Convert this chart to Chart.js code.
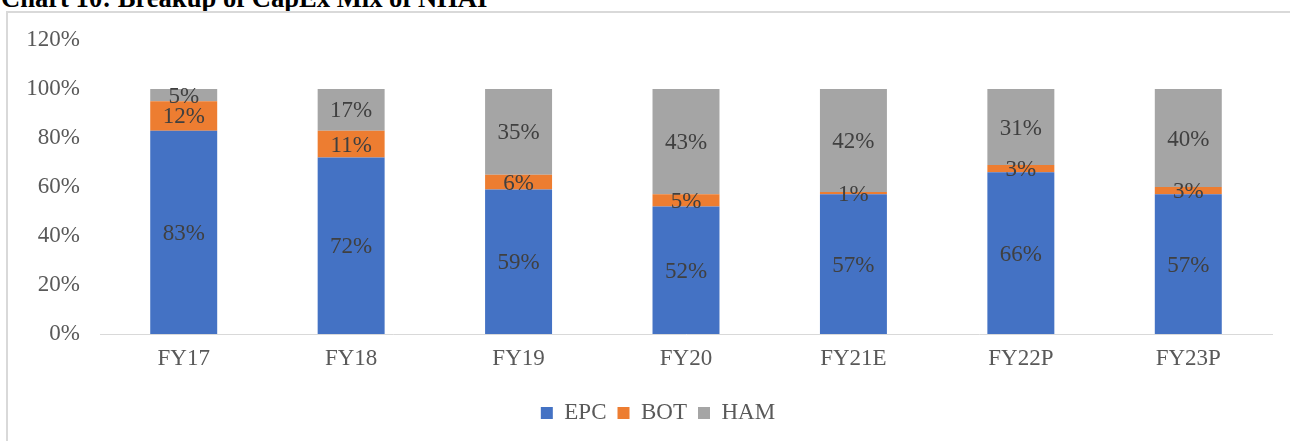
<!DOCTYPE html>
<html>
<head>
<meta charset="utf-8">
<script src="https://cdn.jsdelivr.net/npm/chart.js@4.4.1/dist/chart.umd.min.js"></script>
<style>
  html, body { margin: 0; padding: 0; background: #fff; overflow: hidden; }
  body { width: 1290px; height: 441px; position: relative; }
  #title { position: absolute; left: 1px; top: -15px; font: bold 26.6px "Liberation Serif", "Times New Roman", serif; line-height: 26px; color: #000; white-space: nowrap; }
  #frame { position: absolute; left: 6px; top: 11px; width: 1300px; height: 450px; border: 2px solid #d9d9d9; box-sizing: border-box; }
  #wrap { position: absolute; left: 0; top: 0; width: 1290px; height: 441px; }
</style>
</head>
<body>
<div id="title">Chart 10: Breakup of CapEx Mix of NHAI</div>
<div id="frame"></div>
<div id="wrap"><canvas id="c" width="1290" height="441"></canvas></div>
<script>
const categories = ["FY17", "FY18", "FY19", "FY20", "FY21E", "FY22P", "FY23P"];
const epc = [83, 72, 59, 52, 57, 66, 57];
const bot = [12, 11, 6, 5, 1, 3, 3];
const ham = [5, 17, 35, 43, 42, 31, 40];
const yTicks = [0, 20, 40, 60, 80, 100, 120];

const serif = '"Liberation Serif", "Times New Roman", serif';

const barLabels = {
  id: 'barLabels',
  afterDatasetsDraw(chart) {
    const ctx = chart.ctx;
    ctx.save();
    ctx.font = '23px ' + serif;
    ctx.fillStyle = '#404040';
    ctx.textAlign = 'center';
    ctx.textBaseline = 'middle';
    chart.data.datasets.forEach((ds, di) => {
      const meta = chart.getDatasetMeta(di);
      meta.data.forEach((bar, i) => {
        const v = ds.data[i];
        const p = bar.getProps(['x', 'y', 'base'], true);
        ctx.fillText(v + '%', p.x, (p.y + p.base) / 2 + 1.5);
      });
    });
    ctx.restore();
  }
};

const legendShift = {
  id: 'legendShift',
  afterLayout(chart) {
    const d = 22;
    chart.legend.left += d;
    chart.legend.right += d;
  }
};

new Chart(document.getElementById('c'), {
  type: 'bar',
  data: {
    labels: categories,
    datasets: [
      { label: 'EPC', data: epc, backgroundColor: '#4472C4', categoryPercentage: 1, barPercentage: 0.4 },
      { label: 'BOT', data: bot, backgroundColor: '#ED7D31', categoryPercentage: 1, barPercentage: 0.4 },
      { label: 'HAM', data: ham, backgroundColor: '#A5A5A5', categoryPercentage: 1, barPercentage: 0.4 }
    ]
  },
  options: {
    responsive: false,
    animation: false,
    layout: { padding: { left: 0, right: 18, top: 40, bottom: 6.5 } },
    plugins: {
      legend: {
        position: 'bottom',
        labels: {
          font: { family: serif, size: 23 },
          color: '#595959',
          boxWidth: 12,
          boxHeight: 12,
          padding: 11
        }
      },
      tooltip: { enabled: false }
    },
    scales: {
      x: {
        stacked: true,
        grid: { display: false, drawTicks: false },
        border: { display: true, color: '#d9d9d9', width: 1 },
        ticks: { font: { family: serif, size: 23 }, color: '#595959', padding: 11 },
        afterFit(scale) { scale.height = 56.5; }
      },
      y: {
        stacked: true,
        min: 0,
        max: 120,
        grid: { display: false, drawTicks: false },
        border: { display: false },
        afterBuildTicks(scale) { scale.ticks = yTicks.map(v => ({ value: v })); },
        ticks: {
          font: { family: serif, size: 23 },
          color: '#595959',
          padding: 20,
          callback: v => v + '%'
        },
        afterFit(scale) { scale.width = 100; }
      }
    }
  },
  plugins: [barLabels, legendShift]
});
</script>
</body>
</html>
